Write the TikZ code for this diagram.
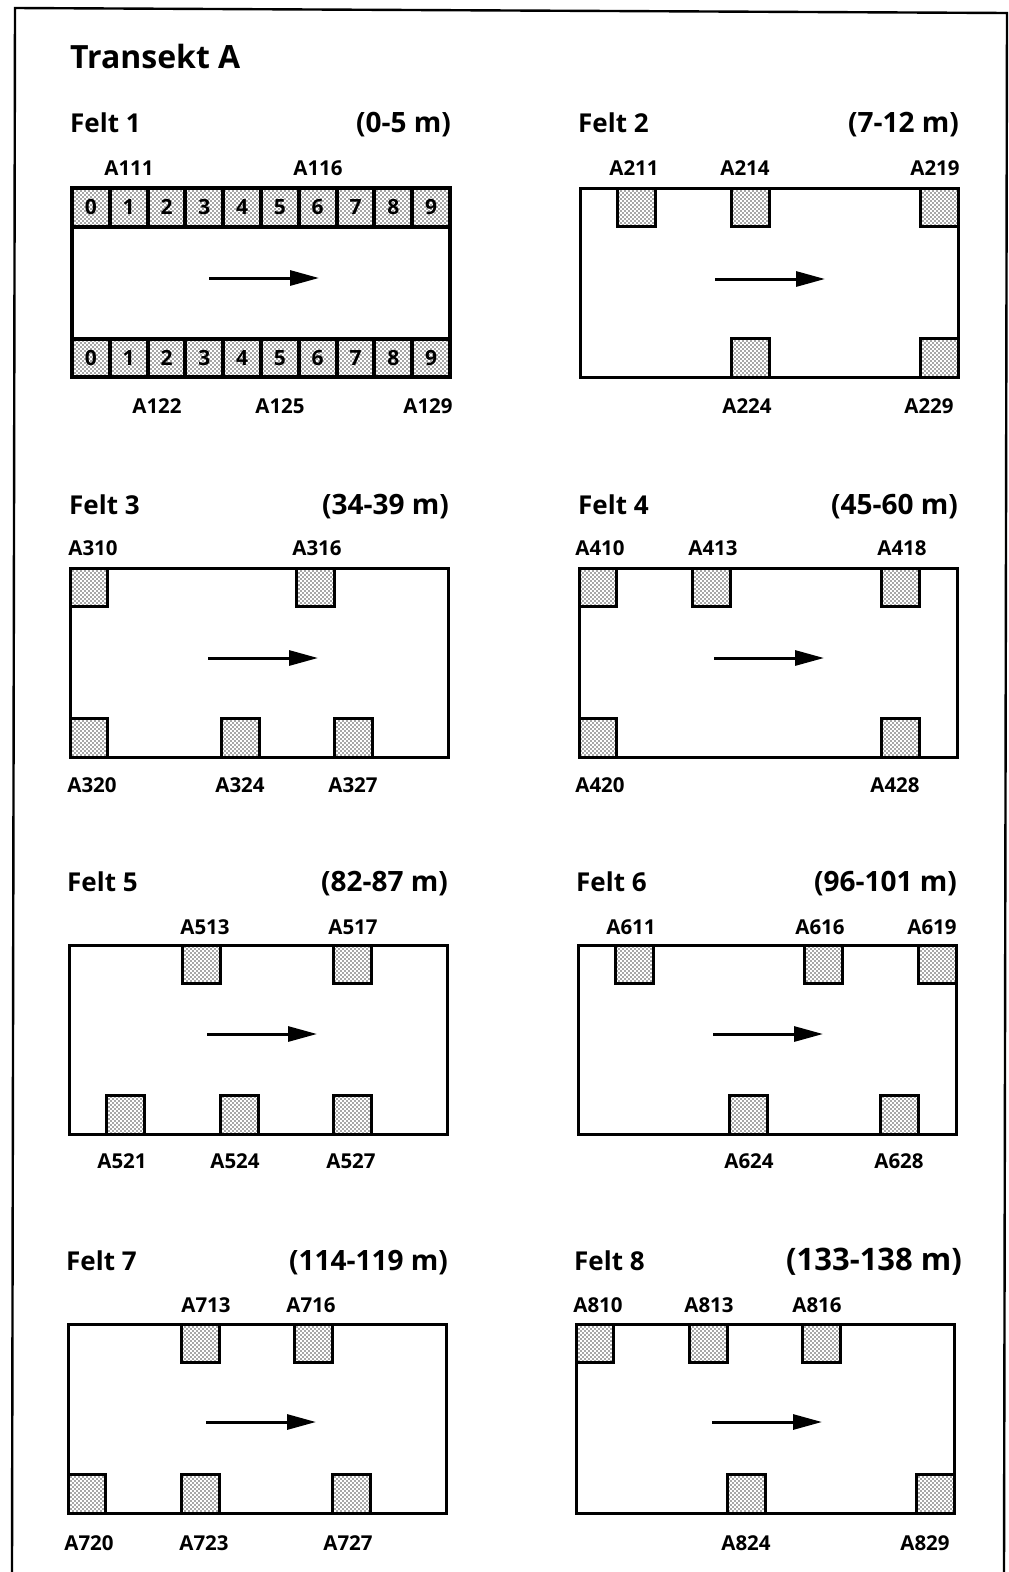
\documentclass[tikz,border=0pt]{standalone}
\usepackage{fontspec}
\setmainfont{Open Sans}
\usetikzlibrary{arrows.meta,patterns}
\pgfdeclarepatternformonly{rutedots}{\pgfqpoint{-1pt}{-1pt}}{\pgfqpoint{5pt}{5pt}}{\pgfqpoint{4pt}{4pt}}{
	\pgfpathcircle{\pgfqpoint{1pt}{1pt}}{0.95pt}
	\pgfpathcircle{\pgfqpoint{3pt}{3pt}}{0.95pt}
	\pgfusepath{fill}
}
\tikzset{
  feltbox/.style={draw,outer sep=0pt,minimum width=378pt,minimum height=189pt,anchor=north west,inner sep=0pt},
  rute/.style={draw,outer sep=0pt,minimum width=37.8pt,minimum height=38.5pt,inner sep=0pt,pattern=rutedots,pattern color=black!70,font=\bfseries\fontsize{21}{21}\selectfont},
  pil/.style={line width=3pt,-{Triangle[length=29pt,width=15pt]}},
  lab/.style={anchor=base,inner sep=0pt,font=\bfseries\fontsize{20.5}{20.5}\selectfont},
  felttitle/.style={anchor=base west,inner sep=0pt,font=\bfseries\fontsize{26}{26}\selectfont},
  feltrange/.style={anchor=base east,inner sep=0pt,font=\bfseries}
}
\begin{document}
\begin{tikzpicture}[x=1pt,y=-1pt]
	\useasboundingbox (0,0) rectangle (1009,1572);
	\coordinate (fa) at (12,1572);
	\coordinate (fb) at (15,8);
	\coordinate (fc) at (1007,13);
	\coordinate (fd) at (1004,1572);
	\draw[line width=2.4pt] (fa) -- (fb) -- (fc) -- (fd);
	\node[anchor=base west,inner sep=0pt,font=\bfseries\fontsize{32}{32}\selectfont] (transekt) at (70,68) {Transekt A};
	% felts: number / left / top / line width / arrow start / arrow y / upper plots / lower plots
	\foreach \n/\fx/\fy/\lw/\ax/\ay/\uppers/\lowers in {
		1/72/188/4/209/278/{0,1,2,3,4,5,6,7,8,9}/{0,1,2,3,4,5,6,7,8,9},
		2/580/188/3/715/279/{1,4,9}/{4,9},
		3/70/568/3/208/658/{0,6}/{0,4,7},
		4/579/568/3/714/658/{0,3,8}/{0,8},
		5/69/945/3/207/1034/{3,7}/{1,4,7},
		6/578/945/3/713/1034/{1,6,9}/{4,8},
		7/68/1324/3/206/1422/{3,6}/{0,3,7},
		8/576/1324/3/712/1422/{0,3,6}/{4,9}}{
		\node[feltbox,line width=\lw pt] (felt\n) at (\fx,\fy) {};
		\foreach \s in \uppers
			\node[rute,line width=\lw pt,anchor=north west] (u\n\s) at (\fx+\s*37.8,\fy) {\ifnum\n=1 \s\fi};
		\foreach \s in \lowers
			\node[rute,line width=\lw pt,anchor=south west] (l\n\s) at (\fx+\s*37.8,\fy+189) {\ifnum\n=1 \s\fi};
		\coordinate (p\n) at (\ax,\ay);
		\coordinate (q\n) at (\ax+110,\ay);
		\draw[pil] (p\n) -- (q\n);
	}
	\foreach \n/\tx/\ty/\range/\rx/\rs in {
		1/70/132/0-5 m/451/28,
		2/578/132/7-12 m/959/28,
		3/69/514/34-39 m/449/28,
		4/578/514/45-60 m/958/28,
		5/67/891/82-87 m/448/28,
		6/576/891/96-101 m/957/28,
		7/66/1270/114-119 m/448/28,
		8/574/1270/133-138 m/962/31}{
		\node[felttitle] (title\n) at (\tx,\ty) {Felt \n};
		\node[feltrange] (range\n) at (\rx,\ty) {\fontsize{\rs}{\rs}\selectfont (\range)};
	}
	\foreach \lab/\lx/\ly in {
		A111/129/175, A116/318/175, A122/157/413, A125/280/413, A129/428/413,
		A211/634/175, A214/745/175, A219/935/175, A224/747/413, A229/929/413,
		A310/93/555, A316/317/555, A320/92/792, A324/240/792, A327/353/792,
		A410/600/555, A413/713/555, A418/902/555, A420/600/792, A428/895/792,
		A513/205/934, A517/353/934, A521/122/1168, A524/235/1168, A527/351/1168,
		A611/631/934, A616/820/934, A619/932/934, A624/749/1168, A628/899/1168,
		A713/206/1312, A716/311/1312, A720/89/1550, A723/204/1550, A727/348/1550,
		A810/598/1312, A813/709/1312, A816/817/1312, A824/746/1550, A829/925/1550}
		\node[lab] (\lab) at (\lx,\ly) {\lab};
\end{tikzpicture}
\end{document}
